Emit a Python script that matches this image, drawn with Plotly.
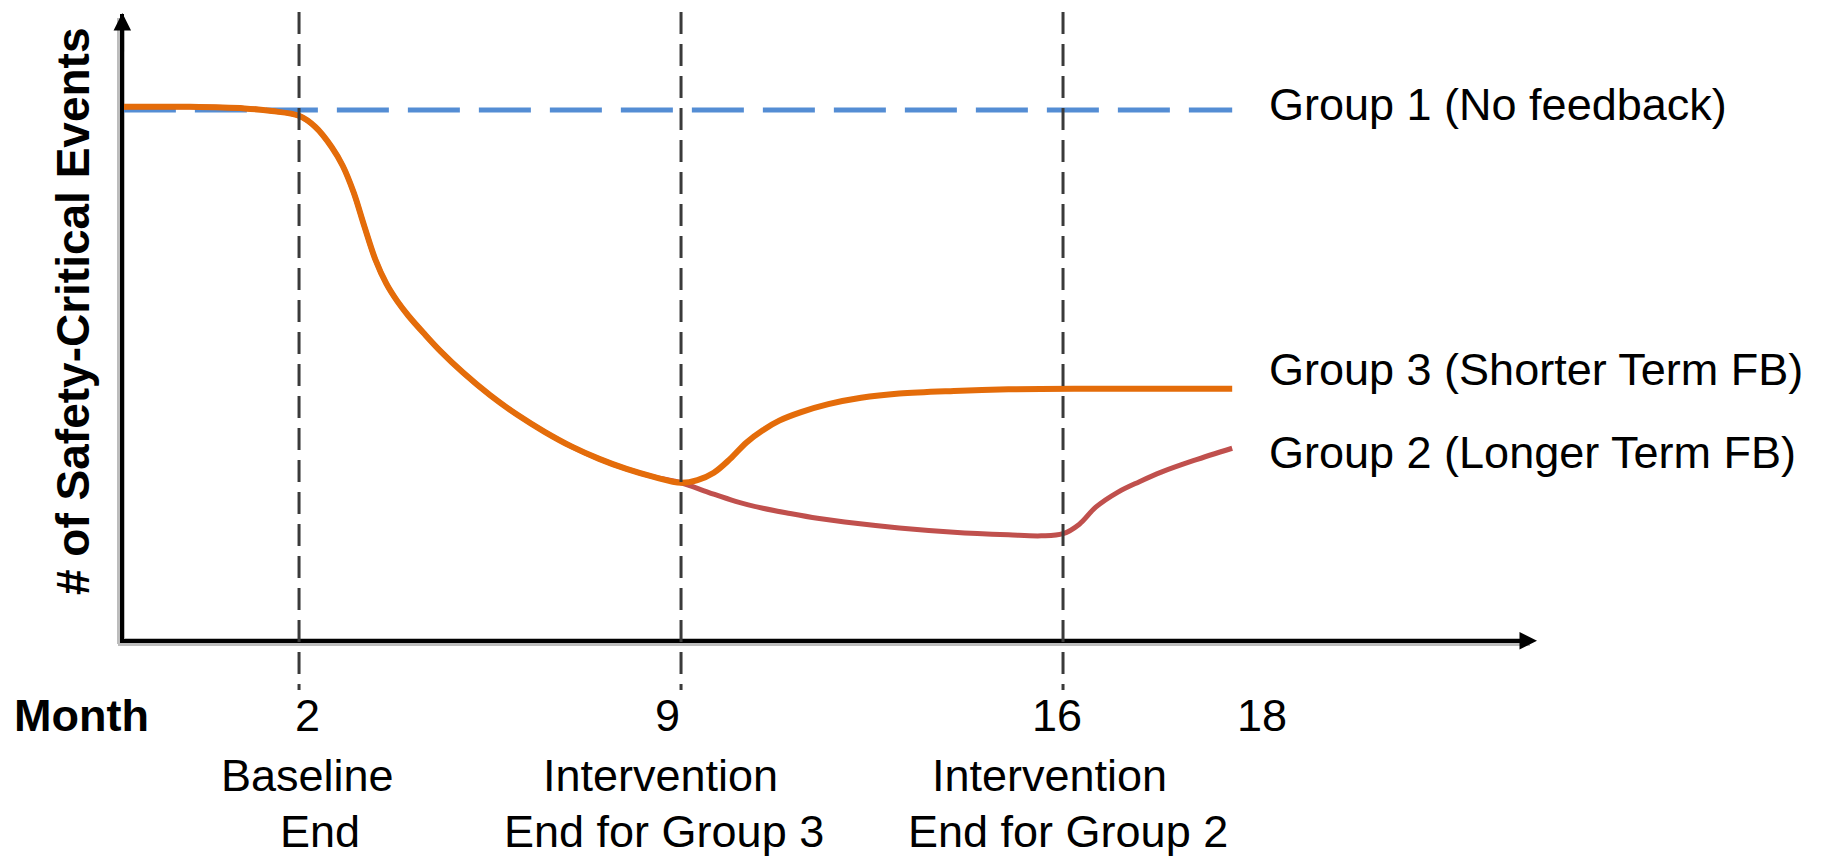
import plotly.graph_objects as go

# ---------------- data (read from the schematic) ----------------
# shared decline of Groups 2 and 3 (months, relative # of safety-critical events)
months_shared = [-1.21, 0.0, 1.0, 1.5, 2.0, 2.3, 2.6, 2.8, 3.0, 3.2, 3.4, 3.6, 3.8, 4.0,
                 4.3, 4.6, 5.0, 5.5, 6.0, 6.5, 7.0, 7.5, 8.0, 8.5, 9.0]
events_shared = [100.6, 100.6, 100.3, 99.8, 98.9, 96.8, 93.0, 89.5, 84.5, 78.0, 71.8, 67.3, 64.0, 61.3,
                 57.8, 54.5, 50.6, 46.3, 42.6, 39.4, 36.6, 34.3, 32.4, 30.9, 29.8]

# Group 3 after its intervention ends (month 9)
months_g3_after = [9.3, 9.6, 9.9, 10.2, 10.5, 10.8, 11.2, 11.7, 12.3, 13.0, 14.0, 15.0, 16.5, 19.1]
events_g3_after = [30.3, 31.7, 34.3, 37.4, 39.7, 41.5, 43.1, 44.6, 45.8, 46.6, 47.1, 47.4, 47.5, 47.5]

# Group 2 after month 9
months_g2_after = [9.5, 10.0, 10.5, 11.0, 11.5, 12.0, 13.0, 14.0, 15.0, 15.6, 16.0, 16.3,
                   16.6, 17.0, 17.4, 17.8, 18.4, 19.1]
events_g2_after = [28.0, 26.3, 25.0, 24.0, 23.1, 22.4, 21.3, 20.5, 20.0, 19.8, 20.2, 22.0,
                   25.2, 28.0, 30.0, 31.8, 34.0, 36.3]

# Group 1 (no feedback) stays flat
months_g1 = [-1.21, 19.1]
events_g1 = [100.0, 100.0]

event_months = [2, 9, 16]
tick_labels = ["2", "9", "16", "18"]
event_labels = [["Baseline", "End"],
                ["Intervention", "End for Group 3"],
                ["Intervention", "End for Group 2"]]
series_names = ["Group 1 (No feedback)", "Group 3 (Shorter Term FB)", "Group 2 (Longer Term FB)"]
y_title = "# of Safety-Critical Events"
x_title = "Month"

# ---------------- layout geometry (pixels) ----------------
W_FIG, H_FIG = 1827, 857
L, R, T, B = 124, 1532, 14, 639
PW, PH = R - L, B - T
X0, XS = 189.9, 54.57          # px of month 0, px per month
Y0, YS = 641.0, 5.31           # px of value 0, px per unit


def px_x(px):
    return (px - L) / PW


def px_y(py):
    return (B - py) / PH


x_range = [(L - X0) / XS, (R - X0) / XS]
y_range = [(Y0 - B) / YS, (Y0 - T) / YS]

C_BLUE = "#548DD4"
C_ORANGE = "#E46C0A"
C_RED = "#C0504D"
FONT = "Arial, Liberation Sans, sans-serif"

fig = go.Figure()

fig.add_trace(go.Scatter(x=months_g1, y=events_g1, mode="lines", name=series_names[0],
                         line=dict(color=C_BLUE, width=5, dash="52px,19px")))
fig.add_trace(go.Scatter(x=months_shared + months_g2_after, y=events_shared + events_g2_after,
                         mode="lines", name=series_names[2],
                         line=dict(color=C_RED, width=5, shape="spline", smoothing=1.0)))
fig.add_trace(go.Scatter(x=months_shared + months_g3_after, y=events_shared + events_g3_after,
                         mode="lines", name=series_names[1],
                         line=dict(color=C_ORANGE, width=6, shape="spline", smoothing=1.0)))

shapes = []
# soft grey shadow behind the axes
shapes.append(dict(type="line", xref="paper", yref="paper", layer="below",
                   x0=px_x(118), x1=px_x(1530), y0=px_y(642), y1=px_y(642),
                   line=dict(color="#bdbdbd", width=8)))
shapes.append(dict(type="line", xref="paper", yref="paper", layer="below",
                   x0=px_x(121), x1=px_x(121), y0=px_y(18), y1=px_y(644),
                   line=dict(color="#bdbdbd", width=8)))
# vertical dashed event lines
for m in event_months:
    shapes.append(dict(type="line", xref="x", yref="paper", layer="above",
                       x0=m, x1=m, y0=px_y(12), y1=px_y(690),
                       line=dict(color="#3a3a3a", width=3, dash="22px,10px")))

annotations = []
# axis arrowheads
annotations.append(dict(xref="paper", yref="paper", x=px_x(122.3), y=px_y(13), text="",
                        showarrow=True, arrowhead=2, arrowsize=1, arrowwidth=3.5,
                        arrowcolor="black", ax=0, ay=40))
annotations.append(dict(xref="paper", yref="paper", x=px_x(1537), y=px_y(640.8), text="",
                        showarrow=True, arrowhead=2, arrowsize=1, arrowwidth=3.5,
                        arrowcolor="black", ax=-40, ay=0))

FS = 45


def add_text(txt, cx, base, shift, size=FS, bold=False, anchor="center"):
    cy = base - 0.347 * size - shift
    annotations.append(dict(xref="paper", yref="paper", x=px_x(cx), y=px_y(cy),
                            text=("<b>%s</b>" % txt) if bold else txt, showarrow=False,
                            xanchor=anchor, yanchor="middle",
                            font=dict(family=FONT, size=size, color="black")))


# y title (rotated)
annotations.append(dict(xref="paper", yref="paper", x=px_x(73), y=px_y(311),
                        text="<b>%s</b>" % y_title, showarrow=False, textangle=-90,
                        xanchor="center", yanchor="middle",
                        font=dict(family=FONT, size=46, color="black")))
# Month row
BOTTOM_SHIFT = 1.5
add_text(x_title, 81, 733, BOTTOM_SHIFT, bold=True)
tick_centers = [307, 667, 1057, 1262]
for lab, cx in zip(tick_labels, tick_centers):
    add_text(lab, cx, 733, BOTTOM_SHIFT)
# event descriptions
line_centers = [[307.5, 319.5], [660, 663.5], [1049.5, 1068]]
line_bases = [793, 848.5]
for lines, cxs in zip(event_labels, line_centers):
    for txt, cx, base in zip(lines, cxs, line_bases):
        add_text(txt, cx, base, BOTTOM_SHIFT)
# series labels at right
label_bases = [119, 384, 467]
for name, base in zip(series_names, label_bases):
    add_text(name, 1267, base, -1.0, anchor="left")

fig.update_layout(
    width=W_FIG, height=H_FIG,
    margin=dict(l=L, r=W_FIG - R, t=T, b=H_FIG - B, pad=0),
    paper_bgcolor="white", plot_bgcolor="rgba(0,0,0,0)",
    showlegend=False,
    shapes=shapes, annotations=annotations,
    xaxis=dict(range=x_range, showgrid=False, zeroline=False, showticklabels=False, ticks="",
               showline=True, linecolor="black", linewidth=3.5, fixedrange=True),
    yaxis=dict(range=y_range, showgrid=False, zeroline=False, showticklabels=False, ticks="",
               showline=True, linecolor="black", linewidth=3.5, fixedrange=True),
)

fig.write_html("out.html", config={"displayModeBar": False},
               post_script="document.body.style.margin='0';document.body.style.overflow='hidden';")
